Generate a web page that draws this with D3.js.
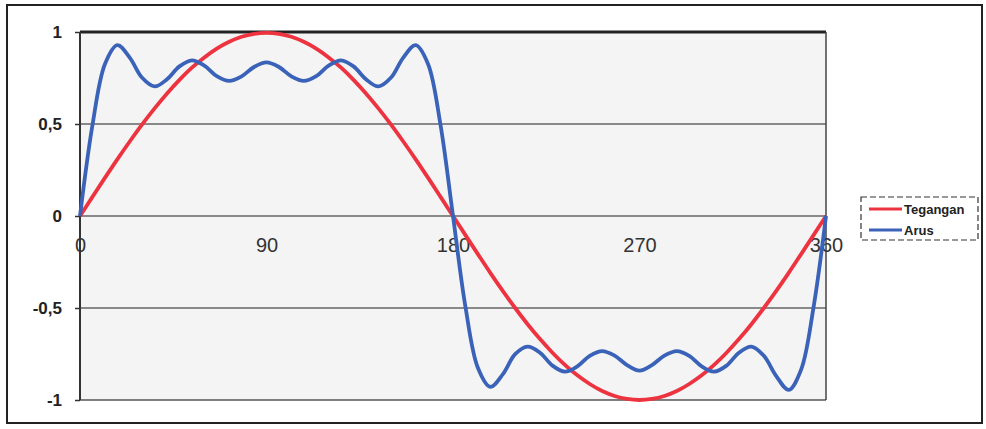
<!DOCTYPE html>
<html><head><meta charset="utf-8">
<script src="https://cdn.jsdelivr.net/npm/d3@7"></script>
<style>body{margin:0;background:#fff}svg{display:block}</style>
</head><body>
<svg id="c" width="986" height="429"></svg>
<script>
// Data (degrees, value)
const angles = d3.range(0, 361, 6);
const tegangan = [0,0.104,0.207,0.308,0.405,0.498,0.585,0.666,0.740,0.806,0.862,0.910,0.947,0.974,0.990,0.995,
  0.990,0.974,0.947,0.910,0.862,0.806,0.740,0.666,0.585,0.498,0.405,0.308,0.207,0.104,0,
  -0.104,-0.207,-0.309,-0.407,-0.500,-0.588,-0.669,-0.743,-0.809,-0.866,-0.913,-0.951,-0.978,-0.994,-1.0,
  -0.994,-0.978,-0.951,-0.913,-0.866,-0.809,-0.743,-0.669,-0.588,-0.500,-0.407,-0.309,-0.207,-0.104,0];
const arus = [0,0.493,0.825,0.929,0.861,0.751,0.704,0.743,0.813,0.846,0.817,0.760,0.734,0.759,0.810,0.835,
  0.810,0.759,0.734,0.760,0.817,0.846,0.813,0.743,0.704,0.751,0.861,0.929,0.825,0.493,0,
  -0.493,-0.825,-0.929,-0.861,-0.751,-0.710,-0.743,-0.813,-0.846,-0.817,-0.760,-0.734,-0.759,-0.810,-0.840,
  -0.810,-0.759,-0.734,-0.760,-0.817,-0.846,-0.813,-0.743,-0.710,-0.760,-0.870,-0.945,-0.835,-0.495,0];
const xTicks = [0, 90, 180, 270, 360];
const yTicks = [1, 0.5, 0, -0.5, -1];
const yTickLabels = ["1", "0,5", "0", "-0,5", "-1"];
const seriesNames = ["Tegangan", "Arus"];
const colors = ["#ee3340", "#3a62b8"];

const svg = d3.select("#c");
const L = 80, R = 826, T = 32, B = 400;
const x = d3.scaleLinear().domain([0, 360]).range([L, R]);
const y = d3.scaleLinear().domain([-1, 1]).range([B, T]);

// outer frame
svg.append("rect").attr("x", 7).attr("y", 5).attr("width", 975).attr("height", 418)
  .attr("fill", "#fff").attr("stroke", "#222").attr("stroke-width", 2);

// plot background
svg.append("rect").attr("x", L).attr("y", T).attr("width", R - L).attr("height", B - T)
  .attr("fill", "#f4f4f4");

// gridlines
svg.append("g").selectAll("line").data(yTicks.filter(d => d !== 1 && d !== -1)).join("line")
  .attr("x1", L).attr("x2", R).attr("y1", d => y(d)).attr("y2", d => y(d))
  .attr("stroke", "#666").attr("stroke-width", 1.5);

// frame of plot area
svg.append("line").attr("x1", L).attr("x2", R).attr("y1", T).attr("y2", T).attr("stroke", "#222").attr("stroke-width", 3);
svg.append("line").attr("x1", L).attr("x2", R).attr("y1", B).attr("y2", B).attr("stroke", "#555").attr("stroke-width", 1.5);
svg.append("line").attr("x1", L).attr("x2", L).attr("y1", T).attr("y2", B).attr("stroke", "#333").attr("stroke-width", 2);
svg.append("line").attr("x1", R).attr("x2", R).attr("y1", T).attr("y2", B).attr("stroke", "#444").attr("stroke-width", 1.5);

// y axis ticks and labels
const yAxis = d3.axisLeft(y).tickValues(yTicks).tickSize(5)
  .tickFormat((d, i) => yTickLabels[i]);
const ga = svg.append("g").attr("transform", `translate(${L},0)`).call(yAxis);
ga.select(".domain").remove();
ga.selectAll(".tick line").attr("stroke", "#333").attr("stroke-width", 1.5);
ga.selectAll(".tick text").attr("x", -18).attr("font-family", "Liberation Sans, Arial, sans-serif")
  .attr("font-size", 17).attr("font-weight", "bold").attr("fill", "#222");

// x axis labels along zero line
const xAxis = d3.axisBottom(x).tickValues(xTicks).tickSize(0).tickFormat(d3.format("d"));
const gx = svg.append("g").attr("transform", `translate(0,${y(0)})`).call(xAxis);
gx.select(".domain").remove();
gx.selectAll(".tick text").attr("dy", "0.71em").attr("y", 22)
  .attr("font-family", "Liberation Sans, Arial, sans-serif").attr("font-size", 20).attr("fill", "#333");

// lines
const line = d3.line().x((d, i) => x(angles[i])).y(d => y(d)).curve(d3.curveCatmullRom.alpha(0.5));
[tegangan, arus].forEach((s, k) => {
  svg.append("path").attr("d", line(s)).attr("fill", "none")
    .attr("stroke", colors[k]).attr("stroke-width", 3.8).attr("stroke-linejoin", "round");
});

// legend
const lg = svg.append("g");
lg.append("rect").attr("x", 861).attr("y", 197).attr("width", 117).attr("height", 43)
  .attr("fill", "#fff").attr("stroke", "#333").attr("stroke-width", 1.2).attr("stroke-dasharray", "6,3");
seriesNames.forEach((n, k) => {
  const yy = 209 + k * 21;
  lg.append("line").attr("x1", 869).attr("x2", 902).attr("y1", yy).attr("y2", yy)
    .attr("stroke", colors[k]).attr("stroke-width", 3);
  lg.append("text").attr("x", 904).attr("y", yy).attr("dy", "0.35em")
    .attr("font-family", "Liberation Sans, Arial, sans-serif").attr("font-size", 13)
    .attr("font-weight", "bold").attr("fill", "#222").text(n);
});
</script>
</body></html>
